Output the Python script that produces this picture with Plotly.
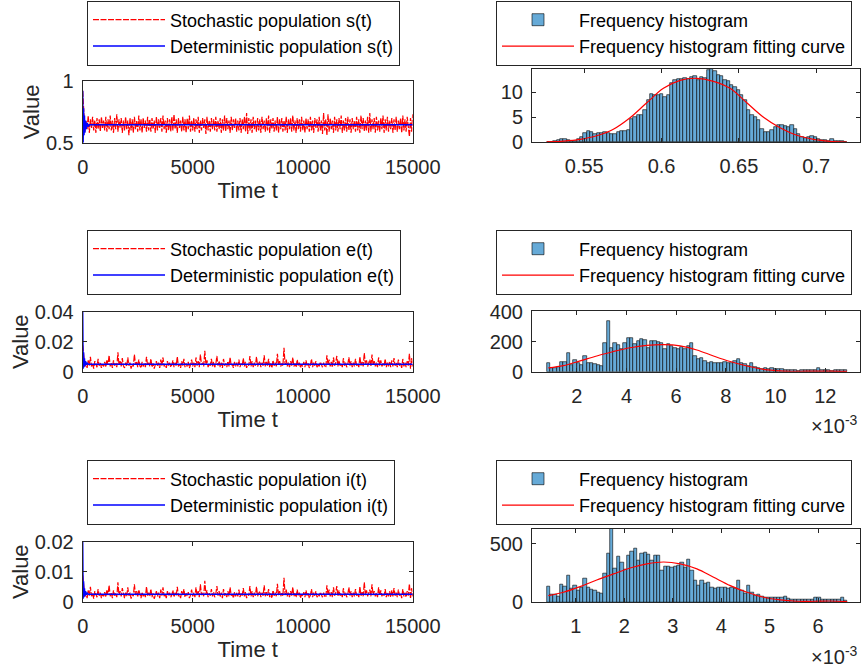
import plotly.graph_objects as go

# ---------------- data ----------------
TIME_STEP = 50          # sampling step of the simulated paths
TIME_TICKS = [0, 5000, 10000, 15000]

S_STOCH = [0.92,
    0.70, 0.59, 0.68, 0.61, 0.72, 0.58, 0.69, 0.62, 0.71, 0.60, 0.68, 0.58, 0.70, 0.61, 0.69, 0.59, 0.71, 0.62, 0.68, 0.60,
    0.71, 0.59, 0.69, 0.61, 0.72, 0.60, 0.68, 0.58, 0.70, 0.61, 0.73, 0.59, 0.69, 0.62, 0.70, 0.58, 0.68, 0.60, 0.71, 0.61,
    0.68, 0.56, 0.70, 0.60, 0.69, 0.58, 0.71, 0.61, 0.68, 0.59, 0.72, 0.60, 0.69, 0.58, 0.70, 0.62, 0.68, 0.59, 0.71, 0.60,
    0.69, 0.59, 0.70, 0.61, 0.68, 0.58, 0.71, 0.60, 0.69, 0.62, 0.70, 0.59, 0.72, 0.61, 0.68, 0.58, 0.70, 0.60, 0.69, 0.59,
    0.71, 0.60, 0.73, 0.61, 0.69, 0.58, 0.70, 0.62, 0.68, 0.59, 0.71, 0.60, 0.69, 0.58, 0.70, 0.61, 0.72, 0.59, 0.68, 0.60,
    0.70, 0.59, 0.69, 0.61, 0.71, 0.58, 0.68, 0.60, 0.70, 0.62, 0.69, 0.57, 0.71, 0.60, 0.68, 0.59, 0.70, 0.61, 0.69, 0.60,
    0.71, 0.59, 0.68, 0.61, 0.70, 0.58, 0.69, 0.60, 0.72, 0.59, 0.70, 0.61, 0.68, 0.58, 0.71, 0.60, 0.69, 0.62, 0.70, 0.59,
    0.68, 0.60, 0.70, 0.58, 0.69, 0.61, 0.71, 0.59, 0.74, 0.57, 0.70, 0.60, 0.69, 0.58, 0.71, 0.61, 0.68, 0.59, 0.70, 0.60,
    0.69, 0.58, 0.71, 0.61, 0.68, 0.59, 0.70, 0.60, 0.72, 0.58, 0.69, 0.61, 0.70, 0.59, 0.68, 0.60, 0.71, 0.58, 0.69, 0.61,
    0.70, 0.59, 0.68, 0.60, 0.71, 0.58, 0.69, 0.61, 0.70, 0.59, 0.72, 0.60, 0.68, 0.58, 0.70, 0.61, 0.69, 0.59, 0.71, 0.60,
    0.68, 0.58, 0.70, 0.61, 0.69, 0.59, 0.71, 0.60, 0.68, 0.58, 0.70, 0.62, 0.69, 0.59, 0.71, 0.60, 0.68, 0.57, 0.74, 0.60,
    0.69, 0.56, 0.73, 0.59, 0.70, 0.61, 0.68, 0.58, 0.71, 0.60, 0.69, 0.59, 0.70, 0.61, 0.72, 0.58, 0.68, 0.60, 0.70, 0.59,
    0.71, 0.60, 0.69, 0.58, 0.70, 0.61, 0.68, 0.59, 0.71, 0.60, 0.69, 0.58, 0.72, 0.61, 0.70, 0.59, 0.68, 0.60, 0.71, 0.58,
    0.74, 0.59, 0.69, 0.61, 0.70, 0.58, 0.71, 0.60, 0.68, 0.59, 0.70, 0.61, 0.72, 0.58, 0.69, 0.60, 0.71, 0.59, 0.68, 0.61,
    0.70, 0.58, 0.69, 0.60, 0.71, 0.59, 0.68, 0.61, 0.70, 0.58, 0.72, 0.60, 0.69, 0.59, 0.71, 0.60, 0.55, 0.70, 0.59, 0.73]

E_STOCH = [0.0176,
    0.0090, 0.0030, 0.0060, 0.0025, 0.0075, 0.0040, 0.0100, 0.0035, 0.0055, 0.0020, 0.0070, 0.0045, 0.0030, 0.0085, 0.0040, 0.0060, 0.0025, 0.0050, 0.0035, 0.0065,
    0.0030, 0.0080, 0.0045, 0.0110, 0.0035, 0.0060, 0.0025, 0.0075, 0.0040, 0.0055, 0.0030, 0.0130, 0.0045, 0.0070, 0.0035, 0.0090, 0.0040, 0.0025, 0.0060, 0.0035,
    0.0095, 0.0040, 0.0060, 0.0020, 0.0050, 0.0035, 0.0115, 0.0045, 0.0070, 0.0030, 0.0080, 0.0040, 0.0025, 0.0065, 0.0035, 0.0055, 0.0030, 0.0100, 0.0040, 0.0060,
    0.0035, 0.0085, 0.0030, 0.0055, 0.0020, 0.0045, 0.0070, 0.0035, 0.0060, 0.0025, 0.0080, 0.0040, 0.0095, 0.0035, 0.0050, 0.0025, 0.0070, 0.0040, 0.0060, 0.0030,
    0.0045, 0.0075, 0.0030, 0.0060, 0.0040, 0.0100, 0.0035, 0.0050, 0.0025, 0.0070, 0.0040, 0.0085, 0.0030, 0.0055, 0.0035, 0.0065, 0.0025, 0.0045, 0.0080, 0.0035,
    0.0060, 0.0030, 0.0095, 0.0040, 0.0070, 0.0030, 0.0115, 0.0045, 0.0060, 0.0035, 0.0140, 0.0050, 0.0075, 0.0030, 0.0055, 0.0040, 0.0085, 0.0035, 0.0065, 0.0030,
    0.0050, 0.0105, 0.0040, 0.0070, 0.0030, 0.0060, 0.0025, 0.0085, 0.0040, 0.0055, 0.0030, 0.0070, 0.0035, 0.0095, 0.0040, 0.0050, 0.0025, 0.0065, 0.0035, 0.0060,
    0.0035, 0.0080, 0.0030, 0.0055, 0.0040, 0.0090, 0.0035, 0.0065, 0.0025, 0.0050, 0.0040, 0.0105, 0.0035, 0.0070, 0.0030, 0.0060, 0.0040, 0.0100, 0.0035, 0.0055,
    0.0070, 0.0030, 0.0060, 0.0040, 0.0110, 0.0035, 0.0065, 0.0040, 0.0085, 0.0030, 0.0055, 0.0025, 0.0075, 0.0040, 0.0060, 0.0035, 0.0120, 0.0045, 0.0070, 0.0035,
    0.0055, 0.0040, 0.0160, 0.0045, 0.0080, 0.0035, 0.0060, 0.0030, 0.0070, 0.0040, 0.0095, 0.0035, 0.0055, 0.0030, 0.0080, 0.0040, 0.0060, 0.0025, 0.0050, 0.0035,
    0.0065, 0.0030, 0.0075, 0.0040, 0.0055, 0.0025, 0.0045, 0.0085, 0.0030, 0.0060, 0.0040, 0.0070, 0.0030, 0.0050, 0.0035, 0.0065, 0.0040, 0.0030, 0.0060, 0.0035,
    0.0030, 0.0110, 0.0045, 0.0080, 0.0035, 0.0065, 0.0030, 0.0095, 0.0040, 0.0060, 0.0105, 0.0035, 0.0075, 0.0040, 0.0055, 0.0030, 0.0090, 0.0040, 0.0060, 0.0030,
    0.0050, 0.0095, 0.0040, 0.0070, 0.0030, 0.0060, 0.0035, 0.0085, 0.0040, 0.0055, 0.0030, 0.0100, 0.0040, 0.0065, 0.0035, 0.0125, 0.0045, 0.0075, 0.0035, 0.0060,
    0.0080, 0.0035, 0.0115, 0.0045, 0.0070, 0.0035, 0.0060, 0.0030, 0.0095, 0.0040, 0.0075, 0.0035, 0.0055, 0.0040, 0.0085, 0.0030, 0.0060, 0.0035, 0.0070, 0.0030,
    0.0075, 0.0035, 0.0090, 0.0040, 0.0060, 0.0030, 0.0080, 0.0040, 0.0055, 0.0025, 0.0085, 0.0035, 0.0060, 0.0030, 0.0070, 0.0040, 0.0120, 0.0020, 0.0090, 0.0035]

I_STOCH = [0.0088,
    0.0045, 0.0015, 0.0030, 0.0012, 0.0038, 0.0020, 0.0050, 0.0018, 0.0028, 0.0010, 0.0035, 0.0022, 0.0015, 0.0042, 0.0020, 0.0030, 0.0012, 0.0025, 0.0018, 0.0032,
    0.0015, 0.0040, 0.0022, 0.0055, 0.0018, 0.0030, 0.0012, 0.0038, 0.0020, 0.0028, 0.0015, 0.0065, 0.0022, 0.0035, 0.0018, 0.0045, 0.0020, 0.0012, 0.0030, 0.0018,
    0.0048, 0.0020, 0.0030, 0.0010, 0.0025, 0.0018, 0.0058, 0.0022, 0.0035, 0.0015, 0.0040, 0.0020, 0.0012, 0.0032, 0.0018, 0.0028, 0.0015, 0.0050, 0.0020, 0.0030,
    0.0018, 0.0042, 0.0015, 0.0028, 0.0010, 0.0022, 0.0035, 0.0018, 0.0030, 0.0012, 0.0040, 0.0020, 0.0048, 0.0018, 0.0025, 0.0012, 0.0035, 0.0020, 0.0030, 0.0015,
    0.0022, 0.0038, 0.0015, 0.0030, 0.0020, 0.0050, 0.0018, 0.0025, 0.0012, 0.0035, 0.0020, 0.0042, 0.0015, 0.0028, 0.0018, 0.0032, 0.0012, 0.0022, 0.0040, 0.0018,
    0.0030, 0.0015, 0.0048, 0.0020, 0.0035, 0.0015, 0.0058, 0.0022, 0.0030, 0.0018, 0.0070, 0.0025, 0.0038, 0.0015, 0.0028, 0.0020, 0.0042, 0.0018, 0.0032, 0.0015,
    0.0025, 0.0052, 0.0020, 0.0035, 0.0015, 0.0030, 0.0012, 0.0042, 0.0020, 0.0028, 0.0015, 0.0035, 0.0018, 0.0048, 0.0020, 0.0025, 0.0012, 0.0032, 0.0018, 0.0030,
    0.0018, 0.0040, 0.0015, 0.0028, 0.0020, 0.0045, 0.0018, 0.0032, 0.0012, 0.0025, 0.0020, 0.0052, 0.0018, 0.0035, 0.0015, 0.0030, 0.0020, 0.0050, 0.0018, 0.0028,
    0.0035, 0.0015, 0.0030, 0.0020, 0.0055, 0.0018, 0.0032, 0.0020, 0.0042, 0.0015, 0.0028, 0.0012, 0.0038, 0.0020, 0.0030, 0.0018, 0.0060, 0.0022, 0.0035, 0.0018,
    0.0028, 0.0020, 0.0080, 0.0022, 0.0040, 0.0018, 0.0030, 0.0015, 0.0035, 0.0020, 0.0048, 0.0018, 0.0028, 0.0015, 0.0040, 0.0020, 0.0030, 0.0012, 0.0025, 0.0018,
    0.0032, 0.0015, 0.0038, 0.0020, 0.0028, 0.0012, 0.0022, 0.0042, 0.0015, 0.0030, 0.0020, 0.0035, 0.0015, 0.0025, 0.0018, 0.0032, 0.0020, 0.0015, 0.0030, 0.0018,
    0.0015, 0.0055, 0.0022, 0.0040, 0.0018, 0.0032, 0.0015, 0.0048, 0.0020, 0.0030, 0.0052, 0.0018, 0.0038, 0.0020, 0.0028, 0.0015, 0.0045, 0.0020, 0.0030, 0.0015,
    0.0025, 0.0048, 0.0020, 0.0035, 0.0015, 0.0030, 0.0018, 0.0042, 0.0020, 0.0028, 0.0015, 0.0050, 0.0020, 0.0032, 0.0018, 0.0065, 0.0022, 0.0038, 0.0018, 0.0030,
    0.0040, 0.0018, 0.0058, 0.0022, 0.0035, 0.0018, 0.0030, 0.0015, 0.0048, 0.0020, 0.0038, 0.0018, 0.0028, 0.0020, 0.0042, 0.0015, 0.0030, 0.0018, 0.0035, 0.0015,
    0.0038, 0.0018, 0.0045, 0.0020, 0.0030, 0.0015, 0.0040, 0.0020, 0.0028, 0.0012, 0.0042, 0.0018, 0.0030, 0.0015, 0.0035, 0.0020, 0.0060, 0.0010, 0.0045, 0.0018]

DET_T = [0, 20, 40, 60, 80, 100, 130, 160, 200, 250, 300, 15000]
S_DET = [0.92, 0.50, 0.78, 0.56, 0.72, 0.58, 0.68, 0.61, 0.66, 0.63, 0.645, 0.645]
E_DET = [0.040, 0.002, 0.013, 0.003, 0.009, 0.004, 0.007, 0.0045, 0.006, 0.005, 0.005, 0.005]
I_DET = [0.020, 0.001, 0.0068, 0.0015, 0.0045, 0.002, 0.0035, 0.0022, 0.003, 0.0025, 0.0025, 0.0025]

# histograms: first bin left edge, bin width, counts
S_BIN_START, S_BIN_WIDTH = 0.5257, 0.002157
S_HIST = [0.1, 0.15, 0.2, 0.5, 0.7, 0.7, 0.5, 0.3, 0.3, 0.6,
          1.1, 1.8, 2.2, 2.1, 1.7, 1.8, 1.9, 2.0, 1.9, 1.7,
          1.6, 2.0, 2.2, 2.2, 2.5, 4.7, 5.1, 5.4, 5.4, 6.4,
          8.4, 9.6, 9.5, 9.5, 9.6, 9.1, 9.5, 11.8, 12.5, 12.6,
          12.6, 12.8, 12.6, 13.0, 13.2, 12.5, 13.0, 12.8, 14.4, 14.6,
          14.2, 13.5, 13.3, 12.5, 12.2, 11.5, 11.0, 10.5, 9.5, 8.4,
          6.4, 5.4, 5.1, 4.4, 2.7, 2.0, 2.0, 2.5, 3.0, 3.5,
          3.4, 3.2, 3.0, 3.4, 2.7, 1.7, 1.1, 0.9, 1.1, 1.35,
          1.1, 0.6, 0.5, 0.5, 0.35, 0.74, 0.35, 0.2, 0.2, 0.1]
S_FIT_X = [0.5257, 0.5365, 0.5473, 0.5580, 0.5688, 0.5796, 0.5904, 0.6012, 0.6120, 0.6227,
           0.6335, 0.6443, 0.6551, 0.6659, 0.6766, 0.6874, 0.6982, 0.7090, 0.7198]
S_FIT_Y = [0.1, 0.25, 0.6, 1.3, 2.6, 4.9, 7.9, 10.8, 12.4, 12.8,
           12.2, 10.8, 7.9, 5.0, 2.9, 1.4, 0.6, 0.2, 0.05]

E_BIN_START, E_BIN_WIDTH = 0.000792, 0.0001342
E_HIST = [60, 27, 27, 31, 64, 64, 122, 42, 78, 60,
          44, 104, 60, 56, 49, 42, 38, 193, 340, 160,
          189, 176, 153, 193, 227, 227, 182, 204, 220, 209,
          160, 204, 204, 198, 189, 153, 182, 171, 160, 149,
          167, 153, 171, 193, 104, 82, 93, 71, 60, 64,
          60, 56, 60, 64, 56, 60, 71, 82, 56, 49,
          38, 60, 33, 27, 20, 24, 16, 27, 20, 16,
          16, 13, 11, 11, 9, 7, 11, 11, 11, 13,
          11, 22, 9, 11, 9, 7, 9, 9, 11, 9]
E_FIT_X = [0.000859, 0.001463, 0.002134, 0.002806, 0.003477, 0.004148, 0.004820, 0.005491,
           0.006162, 0.006833, 0.007504, 0.008176, 0.008847, 0.009518, 0.010189, 0.010860,
           0.011532, 0.012203, 0.012874]
E_FIT_Y = [25, 40, 72, 105, 135, 160, 175, 180, 172, 145, 105, 68, 38, 16, 6, 3, 4, 4, 2]

I_BIN_START, I_BIN_WIDTH = 0.000400, 0.0000689
I_HIST = [137, 71, 63, 49, 149, 134, 229, 114, 143, 100,
          123, 206, 129, 106, 100, 86, 77, 243, 414, 632,
          286, 391, 343, 277, 400, 437, 463, 357, 420, 429,
          409, 357, 400, 400, 271, 309, 309, 300, 306, 314,
          337, 300, 363, 271, 186, 143, 186, 157, 171, 123,
          114, 123, 123, 123, 114, 129, 114, 191, 100, 77,
          143, 86, 57, 66, 49, 43, 37, 37, 43, 43,
          37, 49, 29, 23, 20, 20, 26, 20, 20, 20,
          37, 43, 20, 23, 20, 26, 26, 20, 37, 14]
I_FIT_X = [0.000435, 0.000744, 0.001089, 0.001433, 0.001778, 0.002122, 0.002466, 0.002811,
           0.003155, 0.003499, 0.003844, 0.004188, 0.004532, 0.004877, 0.005221, 0.005565,
           0.005910, 0.006254, 0.006599]
I_FIT_Y = [57, 86, 134, 191, 243, 294, 329, 345, 329, 286, 214, 143, 86, 43, 20, 9, 9, 11, 6]

NAMES = ["s", "e", "i"]

# ---------------- style ----------------
FONT = "Liberation Sans, Arial, Helvetica, sans-serif"
AX = "#262626"
W, H = 861, 670
BAR_COLOR = "rgb(102,170,215)"


def px_x(p):
    return p / W


def px_y(p):
    return 1 - p / H


fig = go.Figure()

rows = [
    dict(stoch=S_STOCH, det=S_DET, hist=S_HIST, b0=S_BIN_START, bw=S_BIN_WIDTH,
         fx=S_FIT_X, fy=S_FIT_Y),
    dict(stoch=E_STOCH, det=E_DET, hist=E_HIST, b0=E_BIN_START, bw=E_BIN_WIDTH,
         fx=E_FIT_X, fy=E_FIT_Y),
    dict(stoch=I_STOCH, det=I_DET, hist=I_HIST, b0=I_BIN_START, bw=I_BIN_WIDTH,
         fx=I_FIT_X, fy=I_FIT_Y),
]

for r, d in enumerate(rows):
    nm = NAMES[r]
    la = 2 * r + 1
    ra = 2 * r + 2
    sx = "x" if la == 1 else f"x{la}"
    sy = "y" if la == 1 else f"y{la}"
    lg = "legend" if la == 1 else f"legend{la}"
    times = [k * TIME_STEP for k in range(len(d["stoch"]))]
    fig.add_trace(go.Scatter(
        x=times, y=d["stoch"], mode="lines", name=f"Stochastic population {nm}(t)",
        line=dict(color="#FF0000", width=1.2, dash="6px,1.5px"),
        xaxis=sx, yaxis=sy, legend=lg))
    fig.add_trace(go.Scatter(
        x=DET_T, y=d["det"], mode="lines", name=f"Deterministic population {nm}(t)",
        line=dict(color="#0000FF", width=1.5),
        xaxis=sx, yaxis=sy, legend=lg))
    centers = [d["b0"] + (k + 0.5) * d["bw"] for k in range(len(d["hist"]))]
    fig.add_trace(go.Bar(
        x=centers, y=d["hist"], width=d["bw"], name="Frequency histogram",
        marker=dict(color=BAR_COLOR, line=dict(color="#000000", width=0.6)),
        xaxis=f"x{ra}", yaxis=f"y{ra}", legend=f"legend{ra}"))
    fig.add_trace(go.Scatter(
        x=d["fx"], y=d["fy"], mode="lines", name="Frequency histogram fitting curve",
        line=dict(color="#FF0000", width=1.2, shape="spline"),
        xaxis=f"x{ra}", yaxis=f"y{ra}", legend=f"legend{ra}"))


def axis(**kw):
    base = dict(showline=True, linecolor=AX, linewidth=1, mirror="ticks",
                ticks="inside", ticklen=4, tickcolor=AX, tickwidth=1,
                showgrid=False, zeroline=False, automargin=False,
                tickfont=dict(family=FONT, size=20, color=AX))
    base.update(kw)
    return base


LEFT_X = [px_x(82.7), px_x(412.7)]
RIGHT_X = [px_x(532), px_x(860.3)]
left_y = [[px_y(142.7), px_y(81)], [px_y(371.7), px_y(311.7)], [px_y(601.7), px_y(541.7)]]
right_y = [[px_y(142.3), px_y(69)], [px_y(371.7), px_y(311)], [px_y(602.3), px_y(528.5)]]

y_left_cfg = [
    dict(range=[0.5, 1], tickvals=[0.5, 1], ticktext=["0.5", "1"]),
    dict(range=[0, 0.04], tickvals=[0, 0.02, 0.04], ticktext=["0", "0.02", "0.04"]),
    dict(range=[0, 0.02], tickvals=[0, 0.01, 0.02], ticktext=["0", "0.01", "0.02"]),
]
x_right_cfg = [
    dict(range=[0.5162, 0.7285], tickvals=[0.55, 0.6, 0.65, 0.7],
         ticktext=["0.55", "0.6", "0.65", "0.7"]),
    dict(range=[0.0002, 0.01341], tickvals=[0.002, 0.004, 0.006, 0.008, 0.010, 0.012],
         ticktext=["2", "4", "6", "8", "10", "12"]),
    dict(range=[0.000097, 0.00687], tickvals=[0.001, 0.002, 0.003, 0.004, 0.005, 0.006],
         ticktext=["1", "2", "3", "4", "5", "6"]),
]
y_right_cfg = [
    dict(range=[0, 14.66], tickvals=[0, 5, 10], ticktext=["0", "5", "10"]),
    dict(range=[0, 405], tickvals=[0, 200, 400], ticktext=["0", "200", "400"]),
    dict(range=[0, 632], tickvals=[0, 500], ticktext=["0", "500"]),
]

TITLE_FONT = dict(family=FONT, size=22, color=AX)
layout = {}
for r in range(3):
    la = 2 * r + 1
    ra = 2 * r + 2
    kx = "xaxis" if la == 1 else f"xaxis{la}"
    ky = "yaxis" if la == 1 else f"yaxis{la}"
    ya = "y" if la == 1 else f"y{la}"
    xa = "x" if la == 1 else f"x{la}"
    layout[kx] = axis(domain=LEFT_X, anchor=ya, range=[0, 15000], tickvals=TIME_TICKS,
                      ticktext=[str(v) for v in TIME_TICKS], ticklabelstandoff=6,
                      title=dict(text="Time t", font=TITLE_FONT, standoff=2))
    layout[ky] = axis(domain=left_y[r], anchor=xa, ticklabelstandoff=4,
                      title=dict(text="Value", font=TITLE_FONT, standoff=0),
                      **y_left_cfg[r])
    layout[f"xaxis{ra}"] = axis(domain=RIGHT_X, anchor=f"y{ra}", ticklabelstandoff=6,
                                **x_right_cfg[r])
    layout[f"yaxis{ra}"] = axis(domain=right_y[r], anchor=f"x{ra}", ticklabelstandoff=4,
                                **y_right_cfg[r])

legend_top = [0.5, 229.5, 459.5]
for r in range(3):
    la = 2 * r + 1
    ra = 2 * r + 2
    common = dict(bgcolor="white", bordercolor=AX, borderwidth=1,
                  font=dict(family=FONT, size=18, color="#000000"),
                  xanchor="left", yanchor="top", y=px_y(legend_top[r]),
                  itemwidth=72, tracegroupgap=0, itemclick=False, itemdoubleclick=False)
    layout["legend" if la == 1 else f"legend{la}"] = dict(x=px_x(87), **common)
    layout[f"legend{ra}"] = dict(x=px_x(496), **common)

fig.update_layout(
    width=W, height=H, margin=dict(l=0, r=0, t=0, b=0, autoexpand=False),
    paper_bgcolor="white", plot_bgcolor="white",
    barmode="overlay", bargap=0, showlegend=True,
    font=dict(family=FONT, color=AX),
    annotations=[
        dict(text="×10<sup>-3</sup>", xref="paper", yref="paper", x=px_x(809), y=px_y(424),
             xanchor="left", yanchor="middle", showarrow=False,
             font=dict(family=FONT, size=20, color=AX)),
        dict(text="×10<sup>-3</sup>", xref="paper", yref="paper", x=px_x(809), y=px_y(655),
             xanchor="left", yanchor="middle", showarrow=False,
             font=dict(family=FONT, size=20, color=AX)),
    ],
    **layout,
)

# the page body gets no default margin, so the 861x670 figure fills the window exactly
fig.write_html("out.html", config={"displayModeBar": False},
               post_script="document.body.style.margin='0px';")
